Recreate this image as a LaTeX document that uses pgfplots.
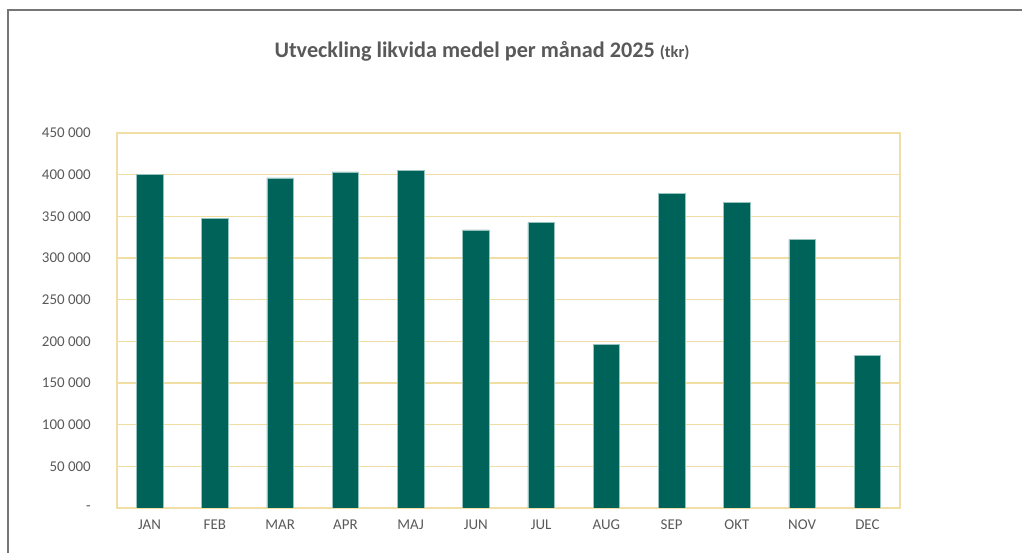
\documentclass[border=0pt]{standalone}
\usepackage{fontspec}
\setmainfont{Carlito}
\usepackage{pgfplots}
\pgfplotsset{compat=1.18}
\definecolor{barc}{RGB}{0,99,90}
\definecolor{barl}{RGB}{150,195,190}
\definecolor{gridc}{RGB}{240,222,165}
\definecolor{txt}{RGB}{89,89,89}
\definecolor{frame}{RGB}{118,118,118}
\begin{document}
\begin{tikzpicture}[x=1bp,y=1bp]
\path[use as bounding box] (0,0) rectangle (1022,553);
\draw[frame, line width=1.5bp] (8,0) -- (8,543) -- (1022,543);
\node[text=txt, font=\fontsize{22.3}{26}\selectfont\bfseries] at (482,502) {Utveckling likvida medel per månad 2025 {\fontsize{16.5}{20}\selectfont(tkr)}};
\begin{axis}[
  at={(117bp,45bp)}, anchor=south west,
  width=783bp, height=375bp, scale only axis,
  xmin=-0.5, xmax=11.5, ymin=0, ymax=450000,
  ybar, bar width=26.6bp,
  xtick={0,...,11},
  xticklabels={JAN,FEB,MAR,APR,MAJ,JUN,JUL,AUG,SEP,OKT,NOV,DEC},
  ytick={0,50000,100000,150000,200000,250000,300000,350000,400000,450000},
  yticklabels={-\hspace{5bp},50 000,100 000,150 000,200 000,250 000,300 000,350 000,400 000,450 000},
  ymajorgrids, grid style={gridc, line width=1.3bp},
  axis line style={gridc, line width=1.3bp},
  major tick length=0pt, tick style={draw=none},
  ticklabel style={text=txt, font=\fontsize{15}{17}\selectfont, inner sep=0pt},
  yticklabel style={anchor=east, xshift=-26bp},
  xticklabel style={anchor=north, yshift=-12bp},
  scaled y ticks=false,
]
\addplot[fill=barc, draw=barl, line width=0.5bp] coordinates {
  (0,400600) (1,347100) (2,396000) (3,403200) (4,404700) (5,333600)
  (6,342300) (7,196000) (8,377500) (9,366700) (10,322000) (11,182700)
};
\end{axis}
\end{tikzpicture}
\end{document}
